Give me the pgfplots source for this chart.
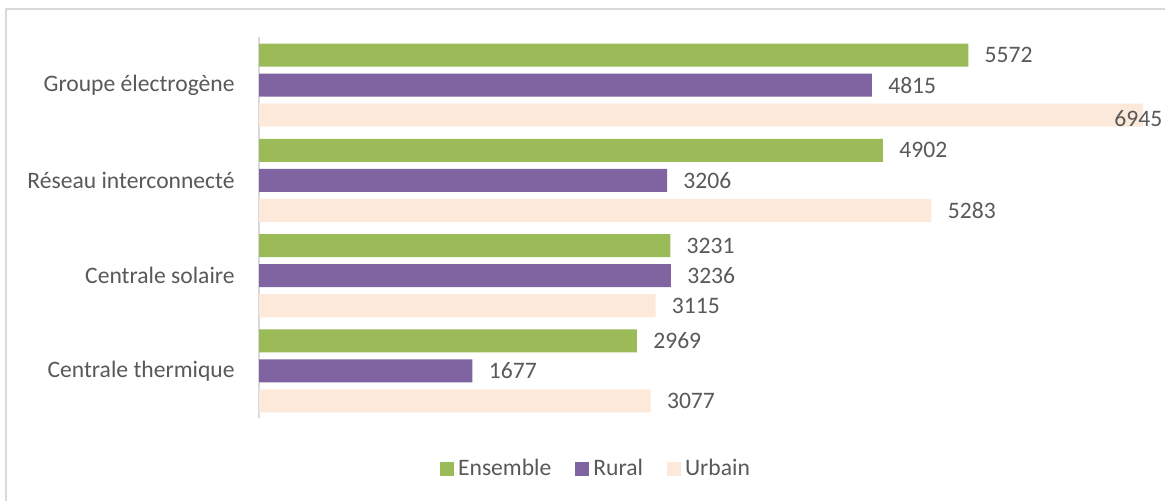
\documentclass[border=0pt]{standalone}
\usepackage{fontspec}
\setmainfont{Carlito}
\usepackage{pgfplots}
\pgfplotsset{compat=1.18}
\definecolor{cgreen}{HTML}{9BBB59}
\definecolor{cpurple}{HTML}{8064A2}
\definecolor{cpeach}{HTML}{FDE9D9}
\definecolor{ctext}{HTML}{595959}
\definecolor{cframe}{HTML}{D9D9D9}
\begin{document}
\begin{tikzpicture}[font=\fontsize{11.8pt}{14pt}\selectfont]
\useasboundingbox (0,0) rectangle (582.5pt,250.5pt);
\fill[white] (0,0) rectangle (582.5pt,250.5pt);
\draw[cframe, line width=0.75pt] (3pt,246pt) rectangle (600pt,-10pt);
\begin{axis}[
  at={(129.5pt,41.25pt)}, anchor=south west,
  scale only axis, width=442pt, height=190.5pt,
  xbar, bar width=11.5pt,
  xmin=0, xmax=6945, ymin=-0.5, ymax=3.5,
  axis x line=none,
  axis y line*=left,
  y axis line style={cframe, line width=1pt, -},
  ytick={0,1,2,3},
  yticklabels={Centrale thermique, Centrale solaire, Réseau interconnecté, Groupe électrogène},
  major tick length=0pt,
  yticklabel style={anchor=east, inner sep=0pt, xshift=-12pt, text=ctext},
  clip=false,
  /pgf/number format/assume math mode=true,
  /pgf/number format/1000 sep={},
  every node near coord/.append style={anchor=west, inner sep=0pt, xshift=8pt, text=ctext},
  legend columns=3,
  legend style={draw=none, at={(0.3824,-0.1325)}, anchor=center, text=ctext,
    /tikz/every even column/.append style={column sep=10pt}},
  legend image code/.code={\fill[#1,draw=none] (0pt,-3.5pt) rectangle (7pt,3.5pt);},
]
\addplot[fill=cgreen, draw=none, bar shift=15pt, nodes near coords] coordinates {(5572,3) (4902,2) (3231,1) (2969,0)};
\addlegendentry{Ensemble}
\addplot[fill=cpurple, draw=none, bar shift=0pt, nodes near coords] coordinates {(4815,3) (3206,2) (3236,1) (1677,0)};
\addlegendentry{Rural}
\addplot[fill=cpeach, draw=none, bar shift=-15pt] coordinates {(6945,3) (5283,2) (3115,1) (3077,0)};
\addlegendentry{Urbain}
\addplot[draw=none, fill=none, bar shift=-15pt, forget plot, nodes near coords] coordinates {(5283,2) (3115,1) (3077,0)};
\addplot[draw=none, fill=none, bar shift=-15pt, forget plot, nodes near coords,
  every node near coord/.append style={xshift=-22.5pt, yshift=-1.5pt}] coordinates {(6945,3)};
\end{axis}
\end{tikzpicture}
\end{document}
